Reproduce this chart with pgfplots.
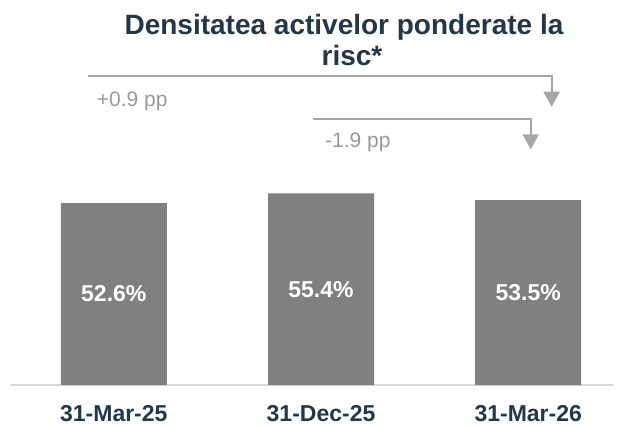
\documentclass[border=0pt]{standalone}
\usepackage{pgfplots}
\pgfplotsset{compat=1.18}
\usepackage{fontspec}
\setmainfont{Liberation Sans}
\usetikzlibrary{arrows.meta}
\definecolor{barc}{HTML}{808080}
\definecolor{titlec}{HTML}{243746}
\definecolor{annc}{HTML}{A6A6A6}
\definecolor{anntext}{HTML}{999999}
\definecolor{basec}{HTML}{D9D9D9}
\begin{document}
\begin{tikzpicture}
\useasboundingbox (0,0) rectangle (624pt,426pt);
\node[anchor=base, inner sep=0, text=titlec, font=\bfseries\fontsize{28}{31}\selectfont] at (344pt,391pt) {Densitatea activelor ponderate la};
\node[anchor=base, inner sep=0, text=titlec, font=\bfseries\fontsize{28}{31}\selectfont] at (352pt,360pt) {risc*};
\begin{axis}[
  at={(10pt,41pt)}, anchor=south west,
  scale only axis, width=604pt, height=345.7pt,
  xmin=-0.501, xmax=2.414, ymin=0, ymax=100,
  axis x line=bottom, axis y line=none,
  x axis line style={draw=basec, line width=1.5pt, -},
  major tick length=0, ytick=\empty,
  xtick={0,1,2}, xticklabels={31-Mar-25,31-Dec-25,31-Mar-26},
  xticklabel style={anchor=base, yshift=-36pt, inner sep=0, text=titlec, font=\bfseries\fontsize{23}{23}\selectfont},
  ybar, bar width=106pt, clip=false,
]
\addplot[ybar, fill=barc, draw=none,
  nodes near coords, point meta=explicit symbolic,
  visualization depends on={rawy \as \rawy},
  nodes near coords style={anchor=center, text=white, inner sep=0, font=\bfseries\fontsize{23}{23}\selectfont, shift={(axis direction cs:0,-\rawy/2)}},
] coordinates {(0,52.6) [52.6\%] (1,55.4) [55.4\%] (2,53.5) [53.5\%]};
\draw[annc, line width=2pt, -{Triangle[width=16pt,length=15pt]}] (axis cs:-0.123,89.47) -| (axis cs:2.113,80.5);
\draw[annc, line width=2pt, -{Triangle[width=16pt,length=15pt]}] (axis cs:0.963,76.86) -| (axis cs:2.012,68.18);
\node[anchor=base west, inner sep=0, text=anntext, font=\fontsize{21}{21}\selectfont] at (axis cs:-0.083,80.5) {+0.9 pp};
\node[anchor=base west, inner sep=0, text=anntext, font=\fontsize{21}{21}\selectfont] at (axis cs:1.019,68.56) {-1.9 pp};
\end{axis}
\end{tikzpicture}
\end{document}
